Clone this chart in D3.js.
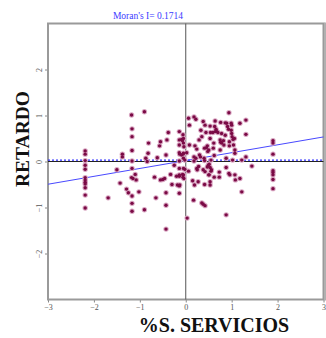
<!DOCTYPE html>
<html><head><meta charset="utf-8">
<script src="https://cdn.jsdelivr.net/npm/d3@7"></script>
<style>body{margin:0;background:#fff;overflow:hidden} svg{display:block}</style>
</head><body><svg id="c" width="326" height="338"></svg>
<script>
const xTicks = [-3, -2, -1, 0, 1, 2, 3];
const yTicks = [-2, -1, 0, 1, 2];
const titleText = "Moran's I= 0.1714";
const xLabel = "%S. SERVICIOS";
const yLabel = "RETARDO";
const moranI = 0.1714;
const lagMean = 0.02;

// [standardized %S. SERVICIOS, spatial lag]
const obs = [
  [-2.19,0.23],[-2.19,0.16],[-2.19,0.02],[-2.19,-0.08],[-2.19,-0.17],[-2.19,-0.35],
  [-2.19,-0.40],[-2.19,-0.45],[-2.19,-0.49],[-2.19,-0.57],[-2.19,-0.73],[-2.19,-1.01],
  [1.90,0.45],[1.90,0.40],[1.90,0.16],[1.90,-0.20],[1.90,-0.24],[1.90,-0.29],[1.90,-0.39],[1.90,-0.59],
  [-1.69,-0.79],[-1.50,-0.18],[-1.43,-0.47],[-1.38,0.16],[-1.38,0.10],[-1.29,-0.60],[-1.25,-0.68],
  [-1.18,1.01],[-1.17,0.71],[-1.17,0.54],[-1.17,0.24],[-1.17,0.01],[-1.17,-0.15],[-1.18,-0.35],
  [-1.15,-0.37],[-1.17,-0.75],[-1.17,-0.91],[-1.17,-1.08],[-1.10,-0.28],[-1.08,-0.40],[-1.02,-0.66],
  [-0.90,1.08],[-0.90,-1.05],[-0.87,0.07],[-0.84,0.00],[-0.81,0.40],[-0.82,0.18],[-0.68,-0.34],
  [-0.65,-0.79],[-0.62,0.08],[-0.57,0.34],[-0.55,0.43],[-0.55,-0.40],[-0.50,-0.39],[-0.46,-0.37],
  [-0.43,0.14],[-0.43,-0.68],[-0.43,-0.95],[-0.43,-1.47],[-0.41,0.47],[-0.38,0.63],[-0.33,-0.28],
  [-0.30,-0.50],[-0.25,-0.08],[-0.20,-0.32],[-0.18,-0.51],
  [-0.14,0.65],[-0.14,0.47],[-0.14,0.36],[-0.14,0.19],[-0.13,0.16],[-0.14,0.01],[-0.14,-0.15],
  [-0.14,-0.29],[-0.14,-0.32],[-0.14,-0.53],[-0.13,-0.51],[-0.14,-0.69],[-0.09,0.48],[-0.05,0.50],
  [-0.06,0.58],[-0.05,0.40],[-0.04,0.32],[-0.06,0.16],[-0.05,0.07],[-0.05,-0.15],[-0.02,-0.17],
  [-0.05,-0.29],[-0.04,-0.37],[0.03,-1.23],[0.06,0.94],[0.08,0.79],[0.08,0.36],[0.06,-0.21],
  [-0.02,0.03],[0.02,0.19],[-0.07,0.45],[-0.09,0.14],[-0.05,0.18],[-0.07,-0.28],[-0.06,-0.34],
  [0.15,-0.42],[0.17,-0.84],[0.18,0.97],[0.22,0.92],[0.20,0.34],[0.24,0.27],[0.18,0.10],[0.22,0.07],
  [0.18,0.01],[0.24,-0.15],[0.25,-0.18],[0.19,-0.51],[0.27,-0.44],[0.29,0.47],[0.28,-0.11],[0.30,0.14],
  [0.32,0.10],[0.33,0.68],[0.35,0.54],[0.35,-0.90],[0.38,-0.93],[0.42,-0.96],[0.38,0.87],[0.42,0.79],
  [0.41,0.29],[0.44,0.63],[0.40,0.07],[0.41,0.02],[0.38,-0.18],[0.42,-0.22],[0.41,-0.50],[0.47,0.34],
  [0.45,0.30],[0.48,0.22],[0.50,0.25],[0.49,-0.08],[0.51,-0.06],[0.53,-0.13],[0.51,-0.29],[0.53,0.77],
  [0.54,0.63],[0.53,0.50],[0.53,-0.44],[0.53,-0.51],[0.55,0.03],[0.56,-0.18],[0.59,0.63],[0.61,0.40],
  [0.60,0.29],[0.62,0.13],[0.64,0.88],[0.63,0.76],[0.66,0.70],[0.64,0.65],[0.68,0.65],[0.70,0.63],
  [0.73,-0.23],[0.73,-0.34],[0.75,0.47],[0.76,0.42],[0.78,0.40],[0.75,0.25],[0.76,0.85],[0.78,0.61],
  [0.82,0.45],[0.83,0.36],[0.86,0.84],[0.89,0.83],[0.86,0.57],[0.88,0.07],[0.88,-0.13],[0.88,-1.16],
  [0.91,0.76],[0.93,0.70],[0.95,0.43],[0.95,0.34],[0.94,-0.26],[0.96,-0.29],[0.94,1.06],[0.99,0.83],
  [1.00,0.79],[0.99,0.68],[1.00,0.61],[1.01,0.54],[1.03,0.48],[1.02,0.03],[1.04,0.36],[1.06,0.50],
  [1.07,0.25],[1.07,0.18],[1.07,-0.29],[1.08,-0.40],[1.18,0.83],[1.18,-0.37],[1.22,0.03],[1.22,-0.66],
  [1.31,0.90],[1.31,0.59],[1.31,0.10],[1.44,-0.10],[0.47,-0.12],[0.55,-0.21],[0.50,-0.29],[0.62,-0.34]
];

const svg = d3.select("#c");
const W = 326, H = 338;
const x = d3.scaleLinear().domain([-3, 3]).range([48, 323.5]);
const y = d3.scaleLinear().domain([-3, 3]).range([299.5, 23.5]);
const serif = "'Liberation Serif','Times New Roman',Times,serif";

svg.append("rect").attr("width", W).attr("height", H).attr("fill", "#fff");

// axes
const xAxis = svg.append("g").attr("transform", `translate(0,${y(-3)})`)
  .call(d3.axisBottom(x).tickValues(xTicks).tickSize(3).tickPadding(2).tickFormat(d3.format("d")));
const yAxis = svg.append("g").attr("transform", `translate(${x(-3)},0)`)
  .call(d3.axisLeft(y).tickValues(yTicks).tickSize(3).tickPadding(5).tickFormat(d3.format("d")));
[xAxis, yAxis].forEach(g => {
  g.select(".domain").remove();
  g.selectAll(".tick line").attr("stroke", "#888");
  g.selectAll(".tick text").attr("fill", "#555").style("font-family", serif).style("font-size", "8px");
});
yAxis.selectAll(".tick text")
  .attr("transform", "rotate(-90)")
  .attr("x", 0).attr("y", -6)
  .attr("text-anchor", "middle").attr("dy", "0");

// frame
svg.append("rect")
  .attr("x", x(-3)).attr("y", y(3))
  .attr("width", x(3) - x(-3)).attr("height", y(-3) - y(3))
  .attr("fill", "none").attr("stroke", "#9a9a9a").attr("stroke-width", 2);
svg.append("line").attr("x1", x(3) + 1.5).attr("x2", x(3) + 1.5).attr("y1", y(3) - 1).attr("y2", y(-3) + 1)
  .attr("stroke", "#b0b0b0").attr("stroke-width", 2);

// zero lines
svg.append("line").attr("x1", x(0)).attr("x2", x(0)).attr("y1", y(3)).attr("y2", y(-3))
  .attr("stroke", "#555").attr("stroke-width", 1);
svg.append("line").attr("x1", x(-3)).attr("x2", x(3)).attr("y1", y(0)).attr("y2", y(0))
  .attr("stroke", "#222").attr("stroke-width", 1);

// mean lag dotted line
svg.append("line").attr("x1", x(-3)).attr("x2", x(3)).attr("y1", y(lagMean) - 0.5).attr("y2", y(lagMean) - 0.5)
  .attr("stroke", "#3030ff").attr("stroke-width", 1.2).attr("stroke-dasharray", "2,2");

// regression line (slope = Moran's I)
svg.append("line")
  .attr("x1", x(-3)).attr("y1", y(lagMean + moranI * -3))
  .attr("x2", x(3)).attr("y2", y(lagMean + moranI * 3))
  .attr("stroke", "#4848ff").attr("stroke-width", 1);

// points
const pts = svg.append("g");
pts.selectAll("circle.h").data(obs).join("circle").attr("class", "h")
  .attr("cx", d => x(d[0])).attr("cy", d => y(d[1])).attr("r", 2.7)
  .attr("fill", "#d9a6c2");
pts.selectAll("circle.c").data(obs).join("circle").attr("class", "c")
  .attr("cx", d => x(d[0])).attr("cy", d => y(d[1])).attr("r", 1.7)
  .attr("fill", "#7a0a45");

// title
svg.append("text").attr("x", 148).attr("y", 19).attr("text-anchor", "middle")
  .style("font-family", serif).style("font-size", "9.5px").attr("fill", "#3a3aff").text(titleText);

// axis titles
svg.append("text").attr("x", 214).attr("y", 332).attr("text-anchor", "middle")
  .style("font-family", serif).style("font-size", "20px").style("font-weight", "bold")
  .attr("fill", "#111").text(xLabel);
svg.append("text").attr("transform", "translate(29,139) rotate(-90)").attr("text-anchor", "middle")
  .style("font-family", serif).style("font-size", "19.5px").style("font-weight", "bold")
  .attr("fill", "#111").text(yLabel);
</script>
</body></html>
